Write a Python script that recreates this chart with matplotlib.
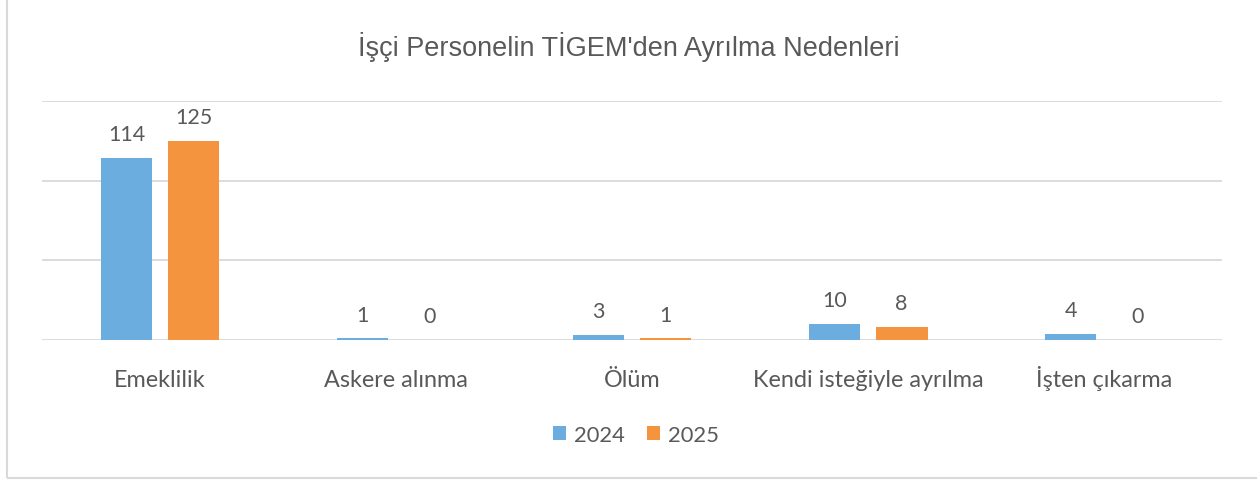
import numpy as np
import matplotlib.pyplot as plt
from matplotlib.patches import Rectangle

categories = ["Emeklilik", "Askere alınma", "Ölüm", "Kendi isteğiyle ayrılma", "İşten çıkarma"]
years = ["2024", "2025"]
values_2024 = [114, 1, 3, 10, 4]
values_2025 = [125, 0, 1, 8, 0]

blue = "#6CADDF"
orange = "#F4943F"
text_col = "#595959"
grid_col = "#D9D9D9"

plt.rcParams['font.family'] = ['Lato', 'DejaVu Sans']

fig = plt.figure(figsize=(12.57, 4.85), dpi=100)
ax = fig.add_axes([0.0334, 0.2969, 0.9388, 0.4928])

x = np.arange(len(categories))
w = 0.22
off = 0.142
b1 = ax.bar(x - off, values_2024, w, color=blue, label=years[0])
b2 = ax.bar(x + off, values_2025, w, color=orange, label=years[1])

for bars, vals in [(b1, values_2024), (b2, values_2025)]:
    for rect, v in zip(bars, vals):
        ax.annotate(str(v), (rect.get_x() + rect.get_width() / 2, v),
                    xytext=(0, 10), textcoords="offset points",
                    ha="center", va="bottom", fontsize=15.5, color=text_col)

ax.set_xlim(-0.5, len(categories) - 0.5)
ax.set_ylim(0, 150)
ax.set_yticks([0, 50, 100, 150])
ax.yaxis.grid(True, color=grid_col, linewidth=1.3)
ax.set_axisbelow(True)
ax.tick_params(axis="y", left=False, labelleft=False)
ax.tick_params(axis="x", bottom=False, pad=29.5, labelsize=16.8, labelcolor=text_col)
ax.set_xticks(x)
ax.set_xticklabels(categories)
for lbl in ax.get_xticklabels():
    lbl.set_va("baseline")
for s in ax.spines.values():
    s.set_visible(False)

fig.text(0.5, 0.903, "İşçi Personelin TİGEM'den Ayrılma Nedenleri",
         ha="center", va="center", fontsize=19.5, color=text_col,
         family=['Liberation Sans Narrow', 'Liberation Sans', 'DejaVu Sans'])

fig.legend(loc="center", bbox_to_anchor=(0.506, 0.101), ncol=2, frameon=False,
           fontsize=15.8, labelcolor=text_col, handlelength=0.6, handleheight=0.6,
           handletextpad=0.35, columnspacing=1.0)

# outer chart frame
fig.patches.append(Rectangle((7 / 1257, 6 / 485), 1.0, 1.0, transform=fig.transFigure,
                             fill=False, edgecolor=grid_col, linewidth=1.5))

fig.savefig("out.png", dpi=100)
